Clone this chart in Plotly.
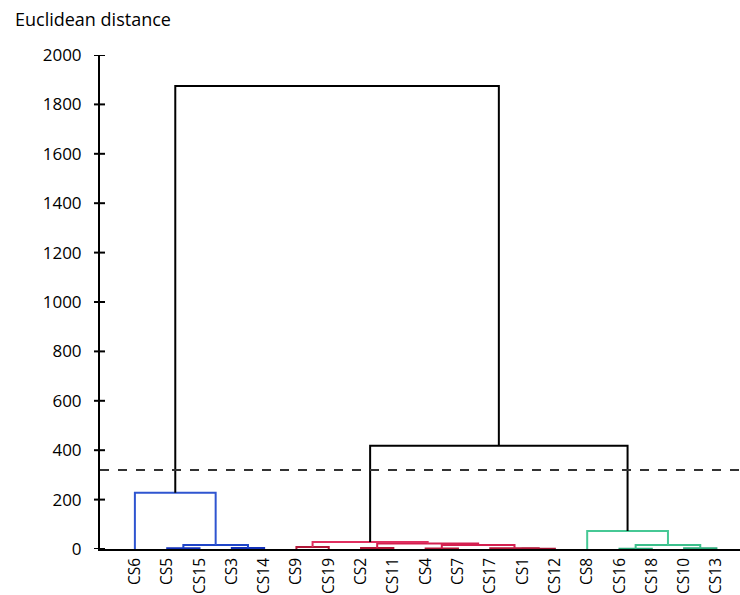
import plotly.graph_objects as go

# ---- data ----
leaves = ["CS6", "CS5", "CS15", "CS3", "CS14", "CS9", "CS19", "CS2", "CS11", "CS4",
          "CS7", "CS17", "CS1", "CS12", "CS8", "CS16", "CS18", "CS10", "CS13"]

# merges: (node name, left child, right child, height)
merge_names = ["b1", "b2", "b3", "B",
               "r1", "r2", "r3", "r4", "r5", "r6", "r7", "R",
               "g1", "g2", "g3", "G",
               "RG", "ALL"]
merge_left = ["CS5", "CS3", "b1", "CS6",
              "CS9", "CS2", "CS4", "CS1", "CS17", "r3", "r2", "r1",
              "CS16", "CS10", "g1", "CS8",
              "R", "B"]
merge_right = ["CS15", "CS14", "b2", "b3",
               "CS19", "CS11", "CS7", "CS12", "r4", "r5", "r6", "r7",
               "CS18", "CS13", "g2", "g3",
               "G", "RG"]
merge_height = [3, 4, 16, 228,
                8, 4, 2, 1, 3, 16, 22, 28,
                1, 3, 16, 73,
                418, 1875]
merge_color = ["#1230b8", "#1230b8", "#1f45c8", "#2f55d0",
               "#b01838", "#b01838", "#b01838", "#a01030", "#b01838", "#d42050", "#d42050", "#e03060",
               "#2aa878", "#2aa878", "#3cc08c", "#46c895",
               "#000000", "#000000"]

cut_height = 320
y_ticks = [0, 200, 400, 600, 800, 1000, 1200, 1400, 1600, 1800, 2000]

# ---- build dendrogram ----
pos = {name: (i, 0.0) for i, name in enumerate(leaves)}
fig = go.Figure()
for name, a, b, h, c in zip(merge_names, merge_left, merge_right, merge_height, merge_color):
    xa, ya = pos[a]
    xb, yb = pos[b]
    fig.add_trace(go.Scatter(x=[xa, xa, xb, xb], y=[ya, h, h, yb], mode="lines",
                             line=dict(color=c, width=2), hoverinfo="skip", showlegend=False))
    pos[name] = ((xa + xb) / 2.0, h)

# cut line
fig.add_shape(type="line", xref="paper", yref="y", x0=0, x1=1, y0=cut_height, y1=cut_height,
              line=dict(color="#333333", width=2, dash="dash"))

# crossing ticks on y axis
for t in y_ticks:
    fig.add_shape(type="line", xref="paper", yref="y", x0=-6 / 640, x1=5 / 640, y0=t, y1=t,
                  line=dict(color="black", width=2))

font = "Open Sans, Noto Sans, sans-serif"
fig.update_layout(
    width=740, height=595,
    margin=dict(l=100, r=0, t=55, b=46, autoexpand=False),
    plot_bgcolor="white", paper_bgcolor="white",
    font=dict(family=font, size=17, color="black"),
    xaxis=dict(range=[-1.08, 18.73], tickmode="array", tickvals=list(range(len(leaves))),
               ticktext=leaves, tickangle=-90, showline=True, linecolor="black", linewidth=1.5,
               ticks="", showgrid=False, zeroline=False, automargin=False,
               ticklabelstandoff=1, tickfont=dict(size=15.5, family=font)),
    yaxis=dict(range=[0, 2000], tickmode="array", tickvals=y_ticks, showline=True,
               linecolor="black", linewidth=2, ticks="", showgrid=False, zeroline=False,
               automargin=False, ticklabelstandoff=13, tickfont=dict(size=17, family=font)),
    annotations=[dict(text="Euclidean distance", xref="paper", yref="paper",
                      x=-87 / 640, y=1 + 36 / 494, xanchor="left", yanchor="middle",
                      showarrow=False, font=dict(size=18, family=font))],
)

fig.write_html("out.html", config={"displayModeBar": False})
with open("out.html", "r", encoding="utf-8") as f:
    html = f.read()
html = html.replace("<body>", '<body style="margin:0;padding:0;overflow:hidden">', 1)
with open("out.html", "w", encoding="utf-8") as f:
    f.write(html)
